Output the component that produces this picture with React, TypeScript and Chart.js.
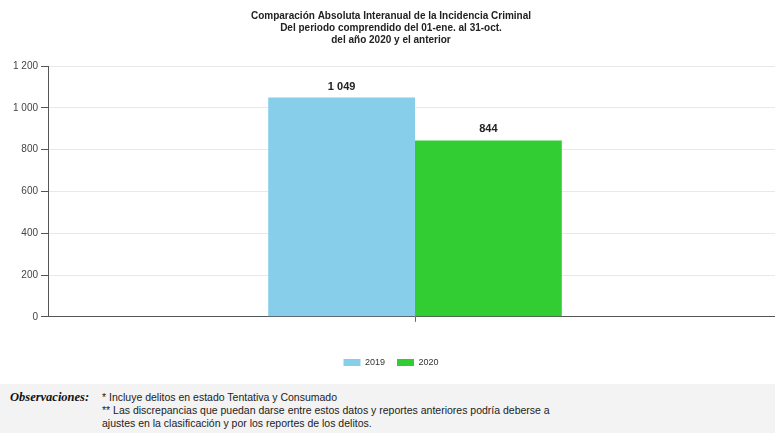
import React, { useEffect, useRef } from "react";
import { Chart, registerables } from "chart.js";

Chart.register(...registerables);

const categories: string[] = [""];
const seriesLabels: string[] = ["2019", "2020"];
const values2019: number[] = [1049];
const values2020: number[] = [844];
const seriesColors: string[] = ["#87CEEB", "#32CD32"];
const yTicks: number[] = [0, 200, 400, 600, 800, 1000, 1200];
const titleLines: string[] = [
  "Comparación Absoluta Interanual de la Incidencia Criminal",
  "Del periodo comprendido del 01-ene. al 31-oct.",
  "del año 2020 y el anterior",
];
const notes: string[] = [
  "* Incluye delitos en estado Tentativa y Consumado",
  "** Las discrepancias que puedan darse entre estos datos y reportes anteriores podría deberse a",
  "ajustes en la clasificación y por los reportes de los delitos.",
];

const fmt = (v: number) => String(v).replace(/\B(?=(\d{3})+(?!\d))/g, " ");
const FONT = "'Liberation Sans', Arial, sans-serif";

const valueLabels = {
  id: "valueLabels",
  afterDatasetsDraw(chart: any) {
    const ctx = chart.ctx;
    ctx.save();
    ctx.font = "bold 11px " + FONT;
    ctx.fillStyle = "#222";
    ctx.textAlign = "center";
    ctx.textBaseline = "alphabetic";
    chart.data.datasets.forEach((ds: any, i: number) => {
      const meta = chart.getDatasetMeta(i);
      meta.data.forEach((bar: any, j: number) => {
        ctx.fillText(fmt(ds.data[j]), bar.x, bar.y - 8);
      });
    });
    ctx.restore();
  },
};

export default function App() {
  const ref = useRef<HTMLCanvasElement | null>(null);
  useEffect(() => {
    document.body.style.margin = "0";
    const chart = new Chart(ref.current as HTMLCanvasElement, {
      type: "bar",
      data: {
        labels: categories,
        datasets: [
          { label: seriesLabels[0], data: values2019, backgroundColor: seriesColors[0], borderWidth: 0 },
          { label: seriesLabels[1], data: values2020, backgroundColor: seriesColors[1], borderWidth: 0 },
        ],
      },
      options: {
        animation: false,
        responsive: false,
        maintainAspectRatio: false,
        layout: { padding: { left: 0, right: 0, top: 0, bottom: 7 } },
        datasets: { bar: { barPercentage: 1, categoryPercentage: 0.4 } },
        plugins: {
          title: {
            display: true,
            text: titleLines,
            color: "#222",
            font: { family: FONT, size: 10, weight: "bold", lineHeight: 1.2 },
            padding: { top: 10, bottom: 20 },
          },
          legend: {
            position: "bottom",
            labels: {
              boxWidth: 17,
              boxHeight: 7,
              color: "#333",
              padding: 12,
              font: { family: FONT, size: 9 },
            },
          },
          tooltip: { enabled: false },
        },
        scales: {
          x: {
            grid: { display: true, drawOnChartArea: false, offset: false, tickLength: 5, color: "#666", tickColor: "#666" },
            border: { display: true, color: "#555", width: 1 },
            ticks: { display: true, padding: 11.5, font: { size: 1 } },
          },
          y: {
            min: 0,
            max: 1200,
            afterFit(scale: any) {
              scale.width = 48;
            },
            afterBuildTicks(scale: any) {
              scale.ticks = yTicks.map((v) => ({ value: v }));
            },
            grid: { color: "#e8e8e8", tickColor: "#555", tickLength: 7 },
            border: { display: true, color: "#555", width: 1 },
            ticks: {
              color: "#444",
              padding: 3,
              font: { family: FONT, size: 10 },
              callback: (v: any) => fmt(Number(v)),
            },
          },
        },
      },
      plugins: [valueLabels],
    } as any);
    return () => chart.destroy();
  }, []);

  return (
    <div style={{ width: 775, position: "relative", overflow: "hidden" }}>
      <canvas ref={ref} width={782} height={384} style={{ display: "block", width: 782, height: 384 }} />
      <div
        style={{
          height: 49,
          width: 775,
          background: "#f3f3f3",
          position: "relative",
          fontFamily: FONT,
          fontSize: 10.5,
          color: "#222",
        }}
      >
        <div
          style={{
            position: "absolute",
            left: 10,
            top: 6,
            fontFamily: "'Liberation Serif', 'Times New Roman', serif",
            fontWeight: "bold",
            fontStyle: "italic",
            fontSize: 12.5,
            color: "#111",
          }}
        >
          Observaciones:
        </div>
        <div style={{ position: "absolute", left: 102, top: 7, lineHeight: "13px" }}>
          {notes.map((n, i) => (
            <div key={i}>{n}</div>
          ))}
        </div>
      </div>
    </div>
  );
}
